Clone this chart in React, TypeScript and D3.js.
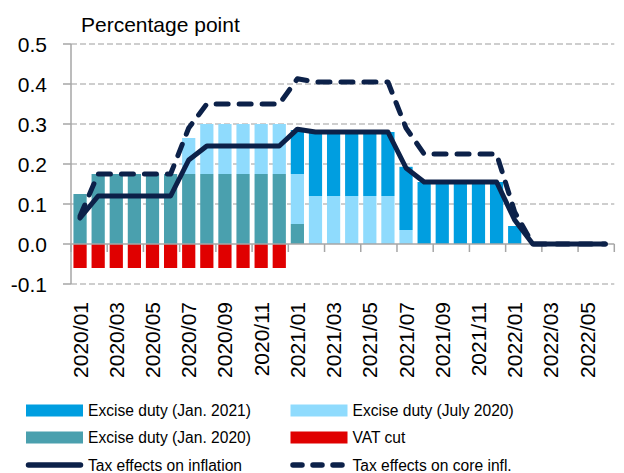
import React, { useEffect, useRef } from 'react';
import * as d3 from 'd3';

const months = [
  '2020/01', '2020/02', '2020/03', '2020/04', '2020/05', '2020/06',
  '2020/07', '2020/08', '2020/09', '2020/10', '2020/11', '2020/12',
  '2021/01', '2021/02', '2021/03', '2021/04', '2021/05', '2021/06',
  '2021/07', '2021/08', '2021/09', '2021/10', '2021/11', '2021/12',
  '2022/01', '2022/02', '2022/03', '2022/04', '2022/05', '2022/06',
];

// stacked bar components (percentage point)
const exciseJan2020 = [
  0.125, 0.175, 0.175, 0.175, 0.175, 0.175,
  0.175, 0.175, 0.175, 0.175, 0.175, 0.175,
  0.05, 0, 0, 0, 0, 0,
  0, 0, 0, 0, 0, 0,
  0, 0, 0, 0, 0, 0,
];
const exciseJul2020 = [
  0, 0, 0, 0, 0, 0,
  0.09, 0.125, 0.125, 0.125, 0.125, 0.125,
  0.125, 0.12, 0.12, 0.12, 0.12, 0.12,
  0.035, 0, 0, 0, 0, 0,
  0, 0, 0, 0, 0, 0,
];
const exciseJan2021 = [
  0, 0, 0, 0, 0, 0,
  0, 0, 0, 0, 0, 0,
  0.11, 0.16, 0.16, 0.16, 0.16, 0.16,
  0.158, 0.155, 0.155, 0.155, 0.155, 0.155,
  0.045, 0, 0, 0, 0, 0,
];
const vatCut = [
  -0.06, -0.06, -0.06, -0.06, -0.06, -0.06,
  -0.06, -0.06, -0.06, -0.06, -0.06, -0.06,
  0, 0, 0, 0, 0, 0,
  0, 0, 0, 0, 0, 0,
  0, 0, 0, 0, 0, 0,
];
const taxInflation = [
  0.065, 0.12, 0.12, 0.12, 0.12, 0.12,
  0.21, 0.245, 0.245, 0.245, 0.245, 0.245,
  0.287, 0.28, 0.28, 0.28, 0.28, 0.28,
  0.19, 0.155, 0.155, 0.155, 0.155, 0.155,
  0.06, 0, 0, 0, 0, 0,
];
const taxCore = [
  0.07, 0.175, 0.175, 0.175, 0.175, 0.175,
  0.29, 0.35, 0.35, 0.35, 0.35, 0.35,
  0.413, 0.405, 0.405, 0.405, 0.405, 0.405,
  0.29, 0.225, 0.225, 0.225, 0.225, 0.225,
  0.08, 0, 0, 0, 0, 0,
];
const yTicks = [-0.1, 0, 0.1, 0.2, 0.3, 0.4, 0.5];

const FONT = '"Liberation Sans", Arial, sans-serif';
const C_DARK = '#009ee0';
const C_LIGHT = '#8fdbfd';
const C_TEAL = '#4aa0ae';
const C_RED = '#e00000';
const C_NAVY = '#0c2149';
const C_AXIS = '#a6a6a6';
const C_GRID = '#bfbfbf';

const App = () => {
  const ref = useRef<SVGSVGElement>(null);

  useEffect(() => {
    const svg = d3.select(ref.current);
    svg.selectAll('*').remove();

    const left = 71;
    const right = 614.3;
    const x = d3
      .scaleBand()
      .domain(months)
      .range([left, right])
      .paddingInner(0.27)
      .paddingOuter(0.135);
    const y = d3.scaleLinear().domain([-0.1, 0.5]).range([284, 44]);
    const cx = (m: string) => (x(m) as number) + x.bandwidth() / 2;

    // grid
    svg
      .append('g')
      .selectAll('line')
      .data(yTicks.filter((t) => t !== 0))
      .enter()
      .append('line')
      .attr('x1', left)
      .attr('x2', right)
      .attr('y1', (d) => y(d))
      .attr('y2', (d) => y(d))
      .attr('stroke', C_GRID)
      .attr('stroke-width', 1.5)
      .attr('stroke-dasharray', '6,3');

    // stacked positive bars
    const rows = months.map((m, i) => ({
      month: m,
      jan2020: exciseJan2020[i],
      jul2020: exciseJul2020[i],
      jan2021: exciseJan2021[i],
    }));
    const keys = ['jan2020', 'jul2020', 'jan2021'];
    const colors: Record<string, string> = { jan2020: C_TEAL, jul2020: C_LIGHT, jan2021: C_DARK };
    const stacked = d3.stack<any>().keys(keys)(rows);
    svg
      .append('g')
      .selectAll('g')
      .data(stacked)
      .enter()
      .append('g')
      .attr('fill', (s) => colors[s.key])
      .selectAll('rect')
      .data((s) => s.filter((d) => d[1] - d[0] > 0))
      .enter()
      .append('rect')
      .attr('x', (d) => x(d.data.month) as number)
      .attr('width', x.bandwidth())
      .attr('y', (d) => y(d[1]))
      .attr('height', (d) => y(d[0]) - y(d[1]));

    // negative VAT bars
    svg
      .append('g')
      .attr('fill', C_RED)
      .selectAll('rect')
      .data(months.map((m, i) => ({ m, v: vatCut[i] })).filter((d) => d.v < 0))
      .enter()
      .append('rect')
      .attr('x', (d) => x(d.m) as number)
      .attr('width', x.bandwidth())
      .attr('y', y(0))
      .attr('height', (d) => y(d.v) - y(0));

    // y axis
    const ya = svg.append('g').attr('stroke', C_AXIS).attr('stroke-width', 1.5);
    ya.append('line').attr('x1', left).attr('x2', left).attr('y1', y(0.5)).attr('y2', y(-0.1));
    ya.selectAll('.t')
      .data(yTicks)
      .enter()
      .append('line')
      .attr('x1', left - 8)
      .attr('x2', left)
      .attr('y1', (d) => y(d))
      .attr('y2', (d) => y(d));
    svg
      .append('g')
      .attr('font-family', FONT)
      .attr('font-size', 21)
      .attr('text-anchor', 'end')
      .attr('fill', '#000')
      .selectAll('text')
      .data(yTicks)
      .enter()
      .append('text')
      .attr('x', 47)
      .attr('y', (d) => y(d))
      .attr('dy', '0.36em')
      .text((d) => d.toFixed(1));

    // x axis
    const step = x.step();
    const xa = svg.append('g').attr('stroke', C_AXIS).attr('stroke-width', 1.5);
    xa.append('line').attr('x1', left).attr('x2', right).attr('y1', y(0)).attr('y2', y(0));
    xa.selectAll('.t')
      .data(d3.range(0, months.length + 1, 2))
      .enter()
      .append('line')
      .attr('x1', (k) => left + k * step)
      .attr('x2', (k) => left + k * step)
      .attr('y1', y(0))
      .attr('y2', y(0) + 8);
    svg
      .append('g')
      .attr('font-family', FONT)
      .attr('font-size', 21)
      .attr('text-anchor', 'end')
      .selectAll('text')
      .data(months.filter((_, i) => i % 2 === 0))
      .enter()
      .append('text')
      .attr('transform', (m) => `translate(${cx(m)},302) rotate(-90)`)
      .attr('dy', '0.36em')
      .text((m) => m);

    // lines
    const line = d3
      .line<number>()
      .x((_, i) => cx(months[i]))
      .y((d) => y(d))
      .curve(d3.curveLinear);
    svg
      .append('path')
      .attr('d', line(taxCore))
      .attr('fill', 'none')
      .attr('stroke', C_NAVY)
      .attr('stroke-width', 5)
      .attr('stroke-linecap', 'round')
      .attr('stroke-linejoin', 'round')
      .attr('stroke-dasharray', '12,11');
    svg
      .append('path')
      .attr('d', line(taxInflation))
      .attr('fill', 'none')
      .attr('stroke', C_NAVY)
      .attr('stroke-width', 5)
      .attr('stroke-linecap', 'round')
      .attr('stroke-linejoin', 'round');

    // title
    svg
      .append('text')
      .attr('x', 81)
      .attr('y', 32)
      .attr('font-family', FONT)
      .attr('font-size', 21)
      .text('Percentage point');

    // legend
    const legend = [
      { label: 'Excise duty (Jan. 2021)', color: C_DARK, type: 'bar', col: 0, row: 0 },
      { label: 'Excise duty (July 2020)', color: C_LIGHT, type: 'bar', col: 1, row: 0 },
      { label: 'Excise duty (Jan. 2020)', color: C_TEAL, type: 'bar', col: 0, row: 1 },
      { label: 'VAT cut', color: C_RED, type: 'bar', col: 1, row: 1 },
      { label: 'Tax effects on inflation', color: C_NAVY, type: 'line', col: 0, row: 2 },
      { label: 'Tax effects on core infl.', color: C_NAVY, type: 'dash', col: 1, row: 2 },
    ];
    const colX = [26, 290.5];
    const rowY = [410.5, 437.5, 465];
    const lg = svg.append('g');
    legend.forEach((d) => {
      const x0 = colX[d.col];
      const y0 = rowY[d.row];
      if (d.type === 'bar') {
        lg.append('rect')
          .attr('x', x0)
          .attr('y', y0 - 6)
          .attr('width', 57)
          .attr('height', 12)
          .attr('fill', d.color);
      } else {
        lg.append('line')
          .attr('x1', x0 + 2.5)
          .attr('x2', x0 + 54.5)
          .attr('y1', y0)
          .attr('y2', y0)
          .attr('stroke', d.color)
          .attr('stroke-width', 5.5)
          .attr('stroke-linecap', 'round')
          .attr('stroke-dasharray', d.type === 'dash' ? '9,11' : null);
      }
      lg.append('text')
        .attr('x', x0 + 62)
        .attr('y', y0)
        .attr('dy', '0.36em')
        .attr('font-family', FONT)
        .attr('font-size', 15.6)
        .text(d.label);
    });
  }, []);

  return (
    <svg
      ref={ref}
      width={624}
      height={473}
      style={{ position: 'absolute', left: 0, top: 0, background: '#fff' }}
    />
  );
};

export default App;
